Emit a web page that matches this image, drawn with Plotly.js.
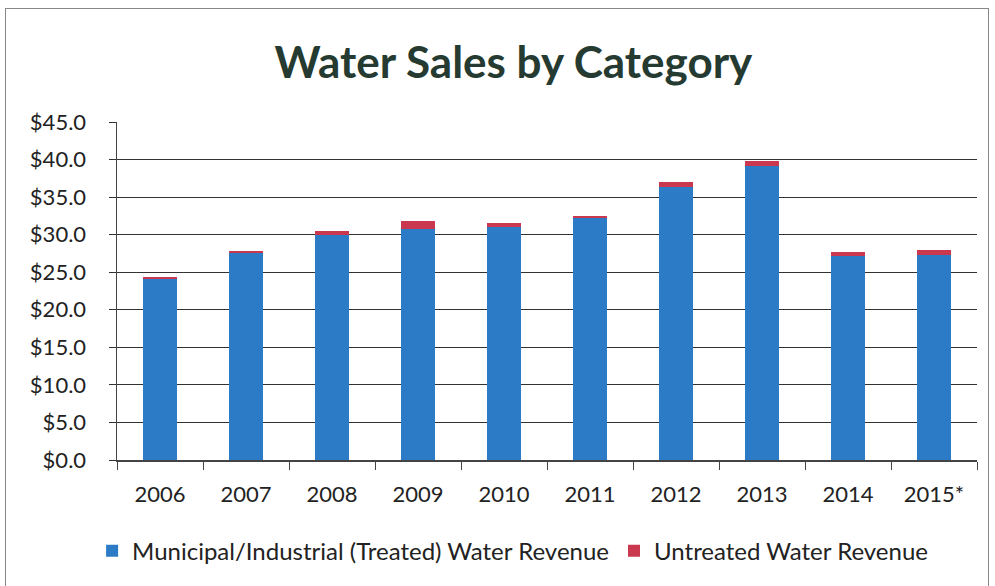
<!DOCTYPE html>
<html>
<head>
<meta charset="utf-8">
<script src="https://cdn.plot.ly/plotly-3.0.1.min.js"></script>
<style>
  html, body { margin: 0; padding: 0; background: #fff; }
  #frame { position: absolute; left: 5px; top: 8px; width: 982px; height: 600px; border: 1.5px solid #888; border-bottom: none; }
  #chart { position: absolute; left: 0; top: 0; width: 995px; height: 586px; }
</style>
</head>
<body>
<div id="frame"></div>
<div id="chart"></div>
<script>
const years = ['2006', '2007', '2008', '2009', '2010', '2011', '2012', '2013', '2014', '2015*'];
const treated = [24.05, 27.55, 30.0, 30.8, 31.0, 32.2, 36.4, 39.1, 27.2, 27.25];
const untreated = [0.25, 0.25, 0.5, 1.05, 0.55, 0.35, 0.6, 0.75, 0.5, 0.7];
const seriesNames = ['Municipal/Industrial (Treated) Water Revenue', 'Untreated Water Revenue'];

const traces = [
  { type: 'bar', x: years, y: treated, name: seriesNames[0], marker: { color: '#2b7bc6' } },
  { type: 'bar', x: years, y: untreated, name: seriesNames[1], marker: { color: '#c9384e' } }
];

const layout = {
  width: 995, height: 586,
  paper_bgcolor: 'rgba(0,0,0,0)', plot_bgcolor: 'rgba(0,0,0,0)',
  barmode: 'stack', bargap: 0.6,
  margin: { l: 117, r: 18, t: 122, b: 126 },
  font: { family: 'Lato, "Open Sans", sans-serif', color: '#222' },
  title: { text: 'Water Sales by Category', x: 0.516, xanchor: 'center', y: 0.894, yanchor: 'middle',
           font: { family: 'Lato, sans-serif', size: 44, color: '#253a30', weight: 'bold' } },
  xaxis: { type: 'category', showline: true, linecolor: '#444', linewidth: 1.5,
           ticks: 'outside', tickson: 'boundaries', ticklen: 8, tickcolor: '#444',
           ticklabelstandoff: 14,
           tickfont: { size: 22, color: '#222' }, showgrid: false },
  yaxis: { range: [0, 45], dtick: 5, tickprefix: '$', tickformat: '.1f',
           showline: true, linecolor: '#444', linewidth: 1.5,
           gridcolor: '#333', gridwidth: 1, zeroline: false,
           ticks: 'outside', ticklen: 7, tickcolor: '#333', ticklabelstandoff: 18,
           tickfont: { size: 22, color: '#222' } },
  showlegend: true,
  legend: { orientation: 'h', x: 0.46, xanchor: 'center', y: -0.27, yanchor: 'middle',
            font: { size: 24, color: '#222' }, traceorder: 'normal', itemwidth: 30 }
};

Plotly.newPlot('chart', traces, layout, { displayModeBar: false, staticPlot: true });
</script>
</body>
</html>
